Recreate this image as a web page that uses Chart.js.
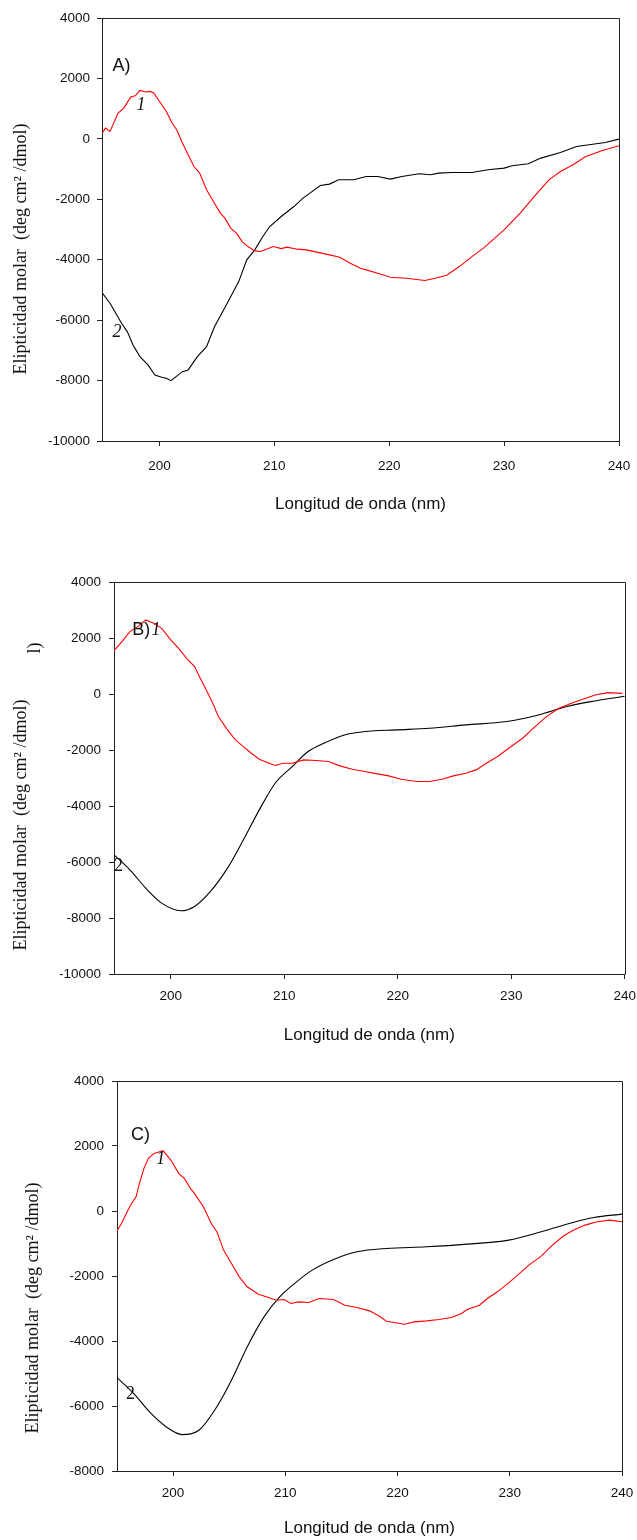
<!DOCTYPE html>
<html>
<head>
<meta charset="utf-8">
<script src="https://cdn.jsdelivr.net/npm/chart.js@4.4.1/dist/chart.umd.min.js"></script>
<style>
  body { margin: 0; background: #fff; }
  canvas { position: absolute; left: 0; }
</style>
</head>
<body>
<canvas id="panelA" width="637" height="530" style="top:0px"></canvas>
<canvas id="panelB" width="637" height="520" style="top:540px"></canvas>
<canvas id="panelC" width="637" height="480" style="top:1060px"></canvas>
<script>
// wavelength axis (nm) and tick values
const nmMin = 195, nmMax = 240;
const nmTicks = [200, 210, 220, 230, 240];
const ellipTicksAB = [4000, 2000, 0, -2000, -4000, -6000, -8000, -10000];
const ellipTicksC = [4000, 2000, 0, -2000, -4000, -6000, -8000];

const xTitle = "Longitud de onda (nm)";
const yTitle = "Elipticidad molar  (deg cm² /dmol)";

// A) spectrum 1 (red) and spectrum 2 (black)
const nmA1 = [195.0, 195.3, 195.7, 196.4, 196.9, 197.5, 197.9, 198.3, 198.8, 199.2, 199.5, 200.2, 200.6, 201.1, 201.5, 202.0, 202.5, 203.0, 203.5, 204.1, 204.7, 205.3, 205.7, 206.2, 206.7, 207.2, 207.7, 208.3, 208.8, 209.3, 209.9, 210.6, 211.1, 212.0, 212.8, 213.7, 214.8, 215.7, 216.6, 217.5, 218.0, 219.0, 220.1, 221.5, 223.1, 224.0, 225.0, 226.1, 227.2, 228.2, 230.0, 231.4, 232.5, 233.9, 234.9, 236.0, 237.1, 238.5, 240.0];
const thetaA1 = [190, 357, 244, 854, 1019, 1383, 1427, 1602, 1549, 1570, 1516, 1129, 907, 522, 300, -140, -528, -915, -1134, -1687, -2074, -2458, -2624, -2955, -3121, -3399, -3565, -3707, -3730, -3651, -3565, -3631, -3585, -3651, -3674, -3750, -3840, -3916, -4115, -4280, -4336, -4446, -4578, -4611, -4690, -4611, -4512, -4227, -3896, -3618, -3012, -2458, -1962, -1355, -1081, -859, -584, -395, -229];
const nmA2 = [195.0, 195.7, 196.2, 196.7, 197.2, 197.7, 198.3, 199.0, 199.6, 200.2, 200.6, 201.0, 202.0, 202.5, 203.3, 204.1, 204.8, 205.9, 206.9, 207.6, 208.3, 209.0, 209.6, 210.6, 211.7, 212.5, 213.1, 214.0, 214.8, 215.6, 216.9, 218.0, 219.0, 220.1, 221.1, 222.6, 223.6, 224.3, 225.4, 227.2, 228.6, 230.0, 230.7, 232.1, 233.2, 234.9, 236.3, 237.4, 238.8, 240.0];
const thetaA2 = [-5088, -5439, -5770, -6101, -6380, -6820, -7208, -7483, -7814, -7890, -7923, -8003, -7705, -7648, -7208, -6877, -6214, -5439, -4724, -4005, -3674, -3233, -2902, -2571, -2240, -1962, -1796, -1544, -1498, -1355, -1355, -1246, -1246, -1332, -1246, -1157, -1190, -1134, -1114, -1114, -1025, -968, -892, -826, -637, -451, -252, -196, -120, -8];

// B)
const nmB1 = [195.0, 195.7, 196.4, 197.1, 197.8, 198.5, 199.2, 200.0, 200.7, 201.4, 202.1, 202.6, 203.2, 203.7, 204.2, 205.0, 205.7, 206.4, 207.1, 207.8, 208.5, 209.2, 209.9, 210.7, 211.7, 212.8, 213.9, 214.9, 216.0, 217.1, 218.2, 219.2, 220.3, 221.7, 222.8, 223.9, 224.9, 226.0, 226.9, 227.8, 228.8, 229.9, 231.0, 232.1, 233.1, 234.2, 235.3, 236.3, 237.4, 238.5, 239.8];
const thetaB1 = [1549, 1870, 2227, 2406, 2644, 2525, 2346, 1930, 1632, 1276, 978, 561, 86, -331, -807, -1282, -1639, -1877, -2115, -2329, -2448, -2555, -2472, -2472, -2353, -2377, -2412, -2567, -2686, -2769, -2853, -2924, -3043, -3126, -3126, -3043, -2924, -2829, -2710, -2472, -2234, -1901, -1580, -1163, -807, -509, -331, -188, -34, 48, 24];
const nmB2 = [195.0, 196.4, 197.8, 199.2, 200.9, 202.1, 203.5, 205.0, 206.4, 207.8, 209.2, 210.7, 212.1, 213.5, 215.3, 217.1, 219.9, 222.8, 226.0, 229.6, 232.4, 234.9, 237.0, 240.0];
const thetaB2 = [-5744, -6279, -6933, -7469, -7743, -7588, -7052, -6220, -5208, -4138, -3186, -2591, -2056, -1758, -1461, -1342, -1282, -1223, -1104, -985, -747, -449, -271, -80];

// C)
const nmC1 = [195.0, 195.4, 195.9, 196.3, 196.7, 197.0, 197.4, 197.8, 198.3, 198.8, 199.1, 199.8, 200.5, 201.0, 201.6, 201.9, 202.7, 203.4, 203.9, 204.5, 205.2, 205.9, 206.6, 207.6, 208.3, 209.2, 209.9, 210.5, 211.2, 212.1, 213.0, 214.3, 215.3, 216.4, 217.5, 218.4, 219.0, 219.7, 220.6, 221.5, 222.6, 223.7, 224.8, 225.7, 226.2, 227.3, 228.0, 228.9, 229.9, 230.6, 231.7, 232.8, 233.8, 234.8, 235.7, 236.7, 237.8, 238.9, 240.0];
const thetaC1 = [-609, -383, -24, 233, 438, 849, 1311, 1619, 1772, 1824, 1855, 1567, 1157, 1003, 664, 541, 130, -383, -640, -1204, -1615, -2026, -2333, -2559, -2641, -2744, -2724, -2847, -2795, -2816, -2693, -2724, -2898, -2970, -3073, -3237, -3391, -3432, -3483, -3411, -3381, -3340, -3278, -3155, -3032, -2898, -2693, -2487, -2210, -2005, -1666, -1389, -1050, -763, -588, -434, -332, -280, -332];
const nmC2 = [195.0, 196.5, 197.9, 199.4, 200.8, 202.3, 203.7, 205.2, 206.6, 208.1, 209.5, 211.0, 212.4, 214.3, 216.4, 219.0, 222.6, 226.2, 229.9, 232.8, 235.3, 237.5, 240.0];
const thetaC2 = [-5126, -5618, -6183, -6645, -6881, -6748, -6132, -5208, -4181, -3257, -2641, -2180, -1820, -1492, -1256, -1153, -1102, -1020, -896, -640, -383, -198, -96];

Chart.defaults.font.family = '"Liberation Sans", Arial, sans-serif';
Chart.defaults.color = "#111";

const pairs = (xs, ys) => xs.map((x, i) => ({ x, y: ys[i] }));

// closes the frame and writes the y title and curve tags
const frameAndNotes = {
  id: "frameAndNotes",
  afterDraw(chart, args, opts) {
    const { ctx, chartArea: a, scales } = chart;
    ctx.save();
    ctx.strokeStyle = "#222";
    ctx.lineWidth = 1;
    ctx.beginPath();
    ctx.moveTo(Math.round(a.left) + 0.5, Math.round(a.top) + 0.5);
    ctx.lineTo(Math.round(a.right) + 0.5, Math.round(a.top) + 0.5);
    ctx.lineTo(Math.round(a.right) + 0.5, Math.round(a.bottom) + 0.5);
    ctx.stroke();

    ctx.fillStyle = "#111";
    ctx.textAlign = "center";
    ctx.textBaseline = "middle";
    (opts.rotated || []).forEach((t) => {
      ctx.save();
      ctx.translate(t.px, t.py);
      ctx.rotate(-Math.PI / 2);
      ctx.font = '18px "Liberation Serif", "Times New Roman", serif';
      ctx.fillText(t.text, 0, 0);
      ctx.restore();
    });
    (opts.tags || []).forEach((t) => {
      ctx.font = t.font;
      ctx.fillText(t.text, scales.x.getPixelForValue(t.at[0]), scales.y.getPixelForValue(t.at[1]));
    });
    ctx.restore();
  },
};

const sansTag = '18px "Liberation Sans", Arial, sans-serif';
const serifTag = 'italic 18px "Liberation Serif", "Times New Roman", serif';
const serifUp = '18px "Liberation Serif", "Times New Roman", serif';

function makePanel(id, g, yMin, yTicks, series, notes) {
  const cv = document.getElementById(id);
  const h = cv.height;
  return new Chart(cv, {
    type: "line",
    data: {
      datasets: series.map((s) => ({
        data: s.data,
        borderColor: s.color,
        borderWidth: 1.1,
        pointRadius: 0,
        fill: false,
        tension: s.smooth ? 0.4 : 0,
        cubicInterpolationMode: s.smooth ? "monotone" : "default",
      })),
    },
    options: {
      responsive: false,
      animation: false,
      devicePixelRatio: 1,
      parsing: false,
      layout: { padding: { top: g.t, right: 637 - g.r, left: 0, bottom: 0 } },
      plugins: {
        legend: { display: false },
        tooltip: { enabled: false },
        frameAndNotes: notes,
      },
      scales: {
        x: {
          type: "linear",
          min: nmMin,
          max: nmMax,
          afterBuildTicks: (s) => { s.ticks = nmTicks.map((v) => ({ value: v })); },
          afterFit: (s) => { s.height = h - g.b; },
          grid: { drawOnChartArea: false, tickLength: 5, color: "#222" },
          border: { color: "#222", width: 1 },
          // tall line height pushes the labels down without widening the right padding
          ticks: { font: { size: 13.5, lineHeight: g.xLine }, padding: 1, maxRotation: 0, autoSkip: false, callback: (v) => String(v) },
          title: { display: true, text: xTitle, font: { size: 17 }, padding: { top: 0, bottom: g.titlePad } },
        },
        y: {
          min: yMin,
          max: 4000,
          afterBuildTicks: (s) => { s.ticks = yTicks.map((v) => ({ value: v })); },
          afterFit: (s) => { s.width = g.l; },
          grid: { drawOnChartArea: false, tickLength: 5, color: "#222" },
          border: { color: "#222", width: 1 },
          ticks: { font: { size: 13.5 }, padding: g.yPad, autoSkip: false, callback: (v) => String(v) },
        },
      },
    },
    plugins: [frameAndNotes],
  });
}

// A)
makePanel("panelA", { l: 102, r: 619, t: 18, b: 441, xLine: 2.8, yPad: 7, titlePad: 15 }, -10000, ellipTicksAB,
  [
    { data: pairs(nmA1, thetaA1), color: "#ff0000" },
    { data: pairs(nmA2, thetaA2), color: "#000000" },
  ],
  {
    rotated: [{ text: yTitle, px: 21, py: 249 }],
    tags: [
      { text: "A)", at: [196.7, 2420], font: sansTag },
      { text: "1", at: [198.4, 1128], font: serifTag },
      { text: "2", at: [196.3, -6386], font: serifTag },
    ],
  });

// B)
makePanel("panelB", { l: 114, r: 625, t: 42, b: 434, xLine: 2.47, yPad: 8, titlePad: 14 }, -10000, ellipTicksAB,
  [
    { data: pairs(nmB1, thetaB1), color: "#ff0000" },
    { data: pairs(nmB2, thetaB2), color: "#000000", smooth: true },
  ],
  {
    rotated: [{ text: yTitle, px: 21, py: 285 }, { text: "l)", px: 35, py: 108 }],
    tags: [
      { text: "B)", at: [197.4, 2287], font: sansTag },
      { text: "1", at: [198.7, 2287], font: serifTag },
      { text: "2", at: [195.4, -6161], font: serifUp },
    ],
  });

// C)
makePanel("panelC", { l: 117, r: 622, t: 21, b: 411, xLine: 2.37, yPad: 8, titlePad: 1 }, -8000, ellipTicksC,
  [
    { data: pairs(nmC1, thetaC1), color: "#ff0000" },
    { data: pairs(nmC2, thetaC2), color: "#000000", smooth: true },
  ],
  {
    rotated: [{ text: yTitle, px: 33, py: 248 }],
    tags: [
      { text: "C)", at: [197.1, 2337], font: sansTag },
      { text: "1", at: [198.9, 1598], font: serifTag },
      { text: "2", at: [196.2, -5637], font: serifUp },
    ],
  });
</script>
</body>
</html>
